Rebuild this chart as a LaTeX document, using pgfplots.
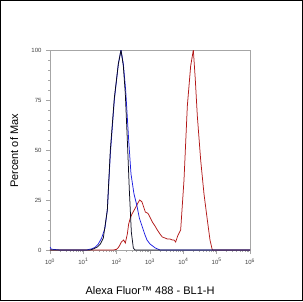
\documentclass[border=0pt]{standalone}
\usepackage{pgfplots}
\pgfplotsset{compat=1.18}
\usepackage{fontspec}
\setmainfont{Liberation Sans}
\definecolor{cblue}{RGB}{30,30,225}
\definecolor{cred}{RGB}{178,24,24}
\definecolor{cblack}{RGB}{10,10,30}
\begin{document}
\begin{tikzpicture}[x=1pt,y=1pt]
\useasboundingbox (0,0) rectangle (303,301);
\draw[black, line width=1.4pt] (0.7,0.7) rectangle (302.3,300.3);
\begin{axis}[
  at={(50pt,51pt)}, anchor=south west,
  scale only axis, width=200pt, height=200pt,
  xmode=log, xmin=1, xmax=1e6, ymin=0, ymax=100,
  axis line style={draw=gray!70, line width=0.6pt},
  tick style={draw=gray!70, line width=0.5pt},
  tick align=outside, tick pos=left,
  major tick length=4pt, minor tick length=2pt,
  xtick={1,10,100,1000,10000,100000,1000000},
  xticklabels={10\textsuperscript{0},10\textsuperscript{1},10\textsuperscript{2},10\textsuperscript{3},10\textsuperscript{4},10\textsuperscript{5},10\textsuperscript{6}},
  ytick={0,25,50,75,100},
  yticklabels={0,25,50,75,100},
  minor y tick num=4,
  tick label style={font=\fontsize{6}{7}\selectfont, text=black!75},
  /pgf/number format/assume math mode=true,
  xticklabel style={yshift=-1pt},
  yticklabel style={xshift=-1pt},
  clip=true,
]
\addplot[cred, line width=0.75pt] table[x expr={10^\thisrow{lx}}, y=p] {
lx p
0 0
1.9 0
1.99 0.3
2.04 1
2.08 2
2.14 4
2.21 5
2.26 3.5
2.32 8
2.36 13
2.41 16
2.46 18
2.51 19.5
2.56 21
2.62 23
2.69 25
2.73 24.5
2.76 24
2.80 22
2.86 19
2.92 18.5
2.95 18
3.01 16
3.07 14
3.15 12
3.22 10
3.30 8
3.37 6.5
3.45 6
3.52 5.5
3.60 5.5
3.67 5
3.72 5
3.77 4
3.83 7
3.92 10
4.02 35
4.12 72
4.22 92
4.30 100
4.36 85
4.42 67
4.52 45
4.62 28
4.72 15
4.80 5
4.87 0
6 0
};
\addplot[cblue, line width=0.75pt] table[x expr={10^\thisrow{lx}}, y=p] {
lx p
0 1.5
0.04 0.4
0.3 0
1.1 0
1.25 0.6
1.35 1.3
1.45 3
1.55 6
1.65 11
1.72 20
1.81 48
1.93 75
2.05 93
2.13 100
2.2 93
2.27 80
2.36 55
2.43 38
2.52 28
2.61 22
2.68 16
2.76 12
2.84 8
2.91 5
3.0 3
3.16 1
3.3 0
6 0
};
\addplot[cblack, line width=0.75pt] table[x expr={10^\thisrow{lx}}, y=p] {
lx p
0 0
1.2 0
1.3 0.5
1.42 1.5
1.51 3
1.6 6
1.72 20
1.81 50
1.93 76
2.05 93
2.13 100
2.2 92
2.26 78
2.32 55
2.38 30
2.44 9
2.5 1
2.55 0
6 0
};
\end{axis}
\node[anchor=base, font=\fontsize{11}{13}\selectfont] at (150,7) {Alexa Fluor™ 488 - BL1-H};
\node[rotate=90, anchor=base, font=\fontsize{11}{13}\selectfont] at (18,150) {Percent of Max};
\end{tikzpicture}
\end{document}
